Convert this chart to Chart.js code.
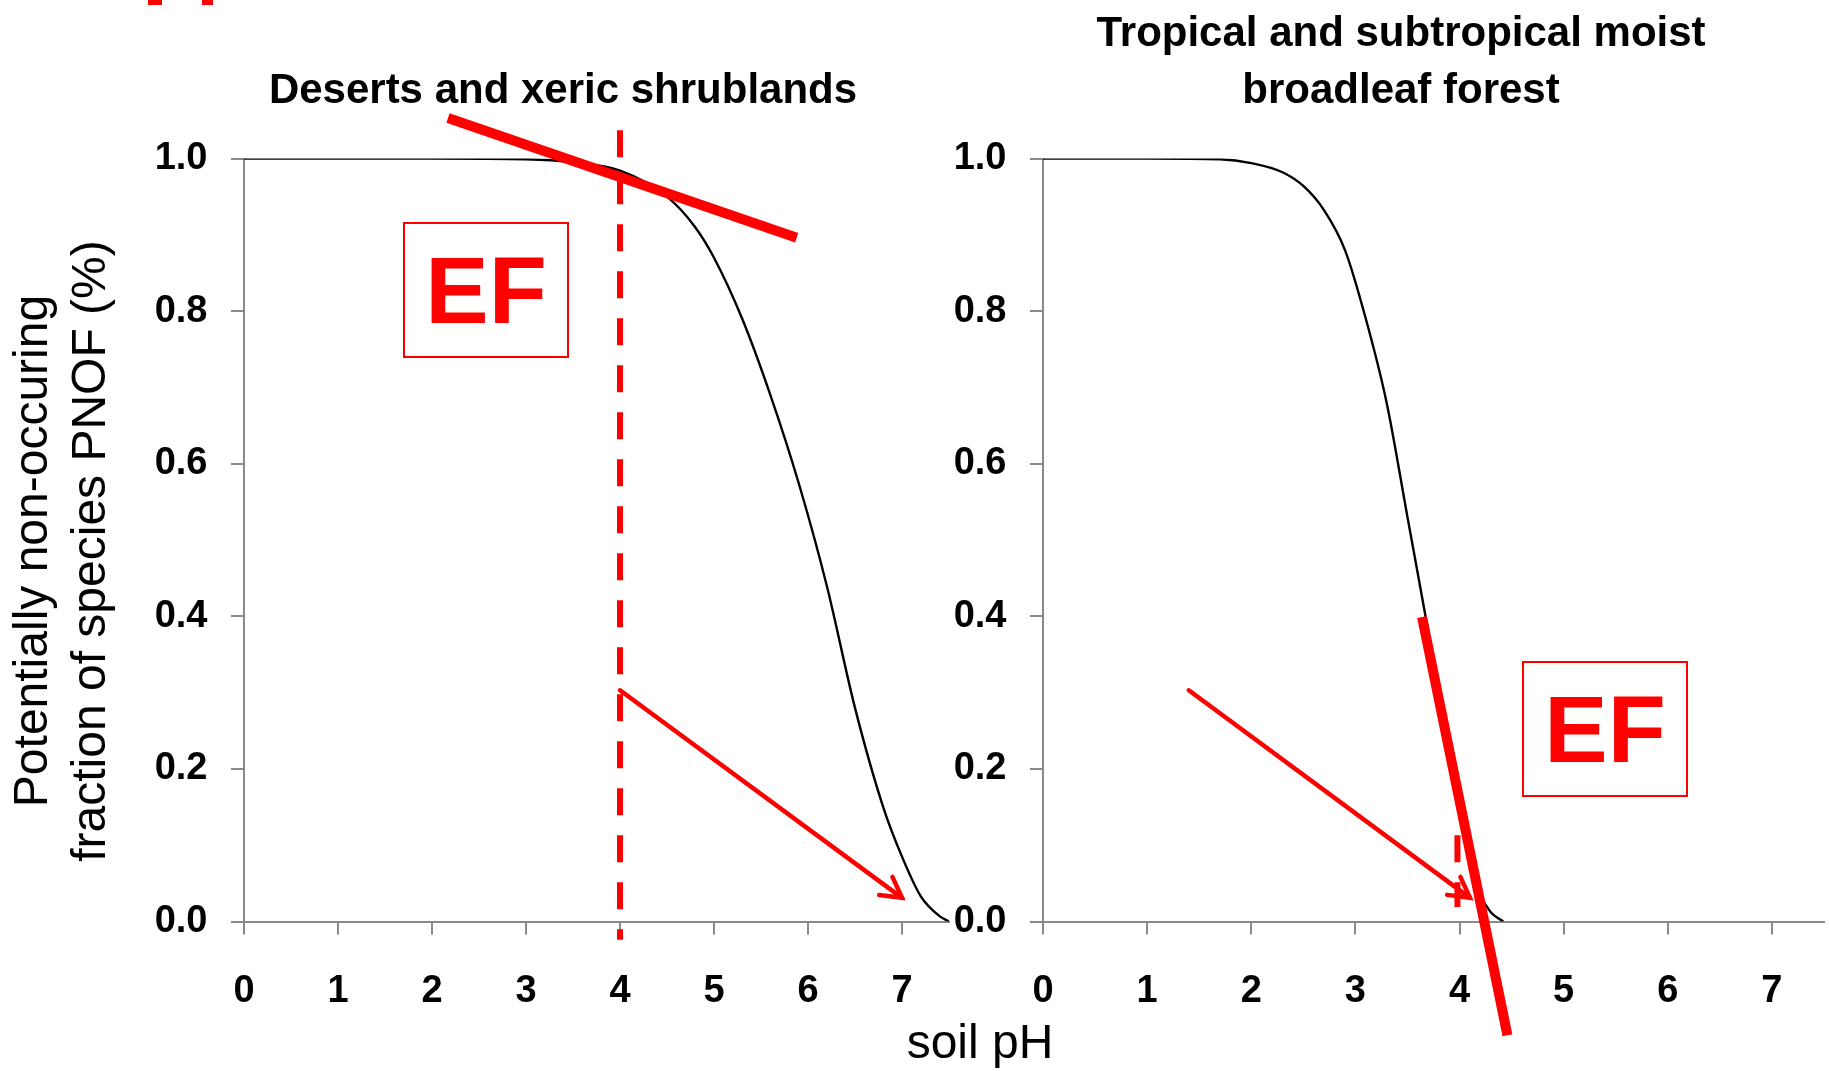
<!DOCTYPE html>
<html>
<head>
<meta charset="utf-8">
<script src="https://cdn.jsdelivr.net/npm/chart.js@4.4.1/dist/chart.umd.min.js"></script>
<style>
  html, body { margin: 0; padding: 0; background: #fff; }
  #stage { position: relative; width: 1829px; height: 1071px; overflow: hidden; font-family: "Liberation Sans", Arial, sans-serif; color: #000; }
  canvas { position: absolute; top: 0; }
  #chartL { left: 0; }
  #chartR { left: 900px; }
  .title { position: absolute; font-weight: bold; font-size: 42px; line-height: 57px; text-align: center; white-space: nowrap; transform: translateX(-50%); }
  .axis-title { position: absolute; font-size: 48px; line-height: 58px; text-align: center; white-space: nowrap; }
  .ef { position: absolute; box-sizing: border-box; width: 166px; height: 136px; border: 2px solid #ff0000; color: #ff0000; font-weight: bold; font-size: 95px; line-height: 1; display: flex; align-items: center; justify-content: center; }
  .mark { position: absolute; background: #ff0000; }
</style>
</head>
<body>
<div id="stage">
  <div class="mark" style="left:148px;top:0;width:14px;height:5px"></div>
  <div class="mark" style="left:202px;top:0;width:11px;height:5px"></div>

  <canvas id="chartL" width="960" height="1071"></canvas>
  <canvas id="chartR" width="929" height="1071"></canvas>

  <div class="title" style="left:563px;top:60px">Deserts and xeric shrublands</div>
  <div class="title" style="left:1401px;top:3px">Tropical and subtropical moist<br>broadleaf forest</div>

  <div class="axis-title" style="left:-290px;top:493px;width:700px;height:116px;transform:rotate(-90deg)">Potentially non-occuring<br>fraction of species PNOF (%)</div>
  <div class="axis-title" style="left:830px;top:1013px;width:300px">soil pH</div>

  <div class="ef" style="left:403px;top:222px">EF</div>
  <div class="ef" style="left:1522px;top:661px">EF</div>
</div>

<script>
// curve: soil pH vs PNOF
const desertPH = [0, 1, 2, 3, 3.5, 4, 4.5, 4.8, 5.0, 5.3, 5.6, 5.9, 6.2, 6.5, 6.8, 7.0, 7.2, 7.4, 7.5];
const desertPNOF = [1, 1, 1, 0.999, 0.995, 0.984, 0.95, 0.91, 0.87, 0.79, 0.69, 0.575, 0.44, 0.28, 0.15, 0.085, 0.033, 0.007, 0];

const tropicPH = [0, 1, 1.7, 2.0, 2.3, 2.5, 2.7, 2.9, 3.1, 3.3, 3.5, 3.7, 3.9, 4.1, 4.2, 4.3, 4.42];
const tropicPNOF = [1, 1, 0.999, 0.994, 0.982, 0.964, 0.932, 0.88, 0.79, 0.68, 0.53, 0.38, 0.22, 0.08, 0.035, 0.012, 0];

const xTicks = [0, 1, 2, 3, 4, 5, 6, 7];
const yTicks = [0, 0.2, 0.4, 0.6, 0.8, 1.0];

// red annotations, in data units [pH, PNOF]
const desertSlope = [[2.17, 1.053], [5.88, 0.896]];
const desertDash = [[4, 1.037], [4, -0.024]];
const desertArrow = [[4.0, 0.303], [7.0, 0.031]];

const tropicSlope = [[3.64, 0.399], [4.46, -0.149]];
const tropicDash = [[3.98, 0.113], [3.98, 0.019]];
const tropicArrow = [[1.40, 0.303], [4.10, 0.031]];

const RED = "#ff0000";
const AXIS = "#898989";
const FONT = "'Liberation Sans', Arial, sans-serif";

const overlayPlugin = {
  id: "overlay",
  afterDraw(chart, args, opts) {
    const { ctx, scales } = chart;
    const px = (p) => [scales.x.getPixelForValue(p[0]), scales.y.getPixelForValue(p[1])];
    ctx.save();
    ctx.strokeStyle = RED;

    for (const seg of opts.dashes || []) {
      const [a, b] = [px(seg[0]), px(seg[1])];
      ctx.lineWidth = 6;
      ctx.setLineDash([27, 20]);
      ctx.beginPath();
      ctx.moveTo(a[0], a[1]);
      ctx.lineTo(b[0], b[1]);
      ctx.stroke();
    }
    ctx.setLineDash([]);

    for (const seg of opts.arrows || []) {
      const [a, b] = [px(seg[0]), px(seg[1])];
      const ang = Math.atan2(b[1] - a[1], b[0] - a[0]);
      const len = 23, spread = Math.PI / 6.2;
      ctx.lineWidth = 4.5;
      ctx.lineCap = "round";
      ctx.lineJoin = "miter";
      ctx.beginPath();
      ctx.moveTo(a[0], a[1]);
      ctx.lineTo(b[0], b[1]);
      ctx.stroke();
      ctx.beginPath();
      ctx.moveTo(b[0] - len * Math.cos(ang - spread), b[1] - len * Math.sin(ang - spread));
      ctx.lineTo(b[0], b[1]);
      ctx.lineTo(b[0] - len * Math.cos(ang + spread), b[1] - len * Math.sin(ang + spread));
      ctx.stroke();
    }

    for (const seg of opts.bars || []) {
      const [a, b] = [px(seg[0]), px(seg[1])];
      ctx.lineWidth = 10;
      ctx.lineCap = "butt";
      ctx.beginPath();
      ctx.moveTo(a[0], a[1]);
      ctx.lineTo(b[0], b[1]);
      ctx.stroke();
    }
    ctx.restore();
  }
};

function makeChart(id, ph, pnof, yWidth, padRight, overlay) {
  const ctx = document.getElementById(id).getContext("2d");
  return new Chart(ctx, {
    type: "line",
    data: {
      datasets: [{
        data: ph.map((x, i) => ({ x, y: pnof[i] })),
        borderColor: "#000",
        borderWidth: 2.4,
        pointRadius: 0,
        fill: false,
        cubicInterpolationMode: "monotone"
      }]
    },
    options: {
      responsive: false,
      animation: false,
      layout: { padding: { top: 158.5, right: padRight, bottom: 49.5, left: 0 } },
      plugins: {
        legend: { display: false },
        tooltip: { enabled: false },
        overlay
      },
      scales: {
        x: {
          type: "linear",
          min: 0,
          max: 7.5,
          afterBuildTicks: (s) => { s.ticks = xTicks.map((v) => ({ value: v })); },
          afterFit: (s) => { s.height = 100; },
          grid: { drawOnChartArea: false, drawTicks: true, tickLength: 13, color: AXIS, lineWidth: 2 },
          border: { display: true, color: AXIS, width: 2 },
          ticks: {
            autoSkip: false,
            maxRotation: 0,
            padding: 34,
            color: "#000",
            font: { family: FONT, size: 38, weight: "bold" },
            callback: (v) => String(v)
          }
        },
        y: {
          min: 0,
          max: 1,
          afterBuildTicks: (s) => { s.ticks = yTicks.map((v) => ({ value: v })); },
          afterFit: (s) => { s.width = yWidth; },
          grid: { drawOnChartArea: false, drawTicks: true, tickLength: 13, color: AXIS, lineWidth: 2 },
          border: { display: true, color: AXIS, width: 2 },
          ticks: {
            padding: 23.5,
            color: "#000",
            font: { family: FONT, size: 38, weight: "bold" },
            callback: (v) => Number(v).toFixed(1)
          }
        }
      }
    },
    plugins: [overlayPlugin]
  });
}

makeChart("chartL", desertPH, desertPNOF, 244, 11, {
  dashes: [desertDash],
  arrows: [desertArrow],
  bars: [desertSlope]
});

makeChart("chartR", tropicPH, tropicPNOF, 143, 5, {
  dashes: [tropicDash],
  arrows: [tropicArrow],
  bars: [tropicSlope]
});
</script>
</body>
</html>
